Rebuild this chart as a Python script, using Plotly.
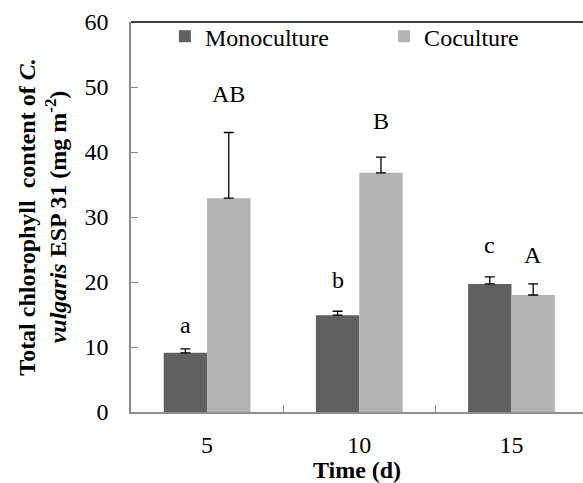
import plotly.graph_objects as go

days = ["5", "10", "15"]
mono = [9.1, 14.9, 19.7]
mono_err = [0.6, 0.6, 1.1]
co = [32.9, 36.8, 18.0]
co_err = [10.1, 2.4, 1.7]
mono_letters = ["a", "b", "c"]
mono_letter_y = [13.1, 20.0, 25.4]
co_letters = ["AB", "B", "A"]
co_letter_y = [48.6, 44.5, 23.9]

FONT = "Liberation Serif"

fig = go.Figure()
fig.add_trace(go.Bar(x=days, y=mono, name="Monoculture", legend="legend",
                     marker=dict(color="#606060", line=dict(width=0)),
                     error_y=dict(type="data", array=mono_err, symmetric=False,
                                  arrayminus=[0, 0, 0], color="black", thickness=1.3, width=5)))
fig.add_trace(go.Bar(x=days, y=co, name="Coculture", legend="legend2",
                     marker=dict(color="#b3b3b3", line=dict(width=0)),
                     error_y=dict(type="data", array=co_err, symmetric=False,
                                  arrayminus=[0, 0, 0], color="black", thickness=1.3, width=5)))

for i in range(len(days)):
    fig.add_annotation(x=i, y=mono_letter_y[i], text=mono_letters[i], showarrow=False,
                       xref="x", yref="y", xshift=-21.5, yshift=2, yanchor="middle",
                       font=dict(family=FONT, size=24, color="black"))
    fig.add_annotation(x=i, y=co_letter_y[i], text=co_letters[i], showarrow=False,
                       xref="x", yref="y", xshift=21.5, yshift=2, yanchor="middle",
                       font=dict(family=FONT, size=24, color="black"))

fig.add_shape(type="line", xref="paper", yref="paper", x0=0, x1=1, y0=1, y1=1,
              line=dict(color="black", width=1.5))

legend_style = dict(orientation="h", yanchor="top", xanchor="left", y=1.02,
                    bgcolor="rgba(0,0,0,0)", font=dict(family=FONT, size=24, color="black"))

fig.update_layout(
    width=583, height=483,
    margin=dict(l=131, r=0, t=22, b=71),
    paper_bgcolor="white", plot_bgcolor="white",
    barmode="group", bargap=0.43, bargroupgap=0,
    font=dict(family=FONT, size=24, color="black"),
    showlegend=True,
    legend=dict(x=0.075, **legend_style),
    legend2=dict(x=0.56, **legend_style),
    xaxis=dict(type="category", range=[-0.5, 2.47], showline=True, linecolor="#8c8c8c", linewidth=1.5,
               ticks="inside", ticklen=7, tickcolor="#8c8c8c", tickson="boundaries",
               showgrid=False, zeroline=False, automargin=False, ticklabelstandoff=10,
               tickfont=dict(family=FONT, size=24, color="black"),
               title=dict(text="<b>Time (d)</b>", font=dict(family=FONT, size=24, color="black"), standoff=6)),
    yaxis=dict(range=[0, 60], dtick=10, showline=True, linecolor="#8c8c8c", linewidth=1.5,
               ticks="inside", ticklen=7, tickcolor="#8c8c8c", showgrid=False, zeroline=False,
               automargin=False, ticklabelstandoff=16,
               tickfont=dict(family=FONT, size=24, color="black"),
               title=dict(text="<b>Total chlorophyll  content of <i>C.</i><br><i>vulgaris</i> ESP 31 (mg m<sup>-2</sup>)</b>",
                          font=dict(family=FONT, size=24, color="black"), standoff=11)),
)

fig.write_html("out.html", config={"displayModeBar": False},
               post_script="document.body.style.margin='0';")
